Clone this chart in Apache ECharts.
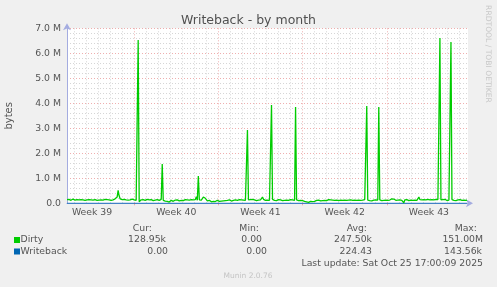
<!DOCTYPE html>
<html><head><meta charset="utf-8">
<script src="https://cdn.jsdelivr.net/npm/echarts@6/dist/echarts.min.js"></script>
<style>html,body{margin:0;padding:0;background:#f0f0f0}#c{width:497px;height:287px}</style>
</head><body><div id="c"></div>
<script>
// ---- data ----
const weekLabels = ['Week 39', 'Week 40', 'Week 41', 'Week 42', 'Week 43'];
const yTickValuesM = [0, 1, 2, 3, 4, 5, 6, 7];
// Dirty, one value per 2-hour step, in units of 0.01 MB
const dirty = [
15,14,16,13,12,15,17,14,13,16,15,12,14,17,15,13,14,16,12,15,
14,13,15,18,14,12,13,16,15,14,12,15,13,17,14,15,13,12,16,14,
15,13,14,16,12,15,14,13,18,17,25,52,30,18,14,15,13,16,12,14,
15,13,16,14,12,17,15,14,13,12,8,653,6,12,14,11,15,13,12,14,
16,12,14,13,15,12,11,14,13,12,15,13,12,14,16,157,12,10,9,12,
8,6,5,9,12,10,8,11,13,12,14,11,10,13,12,14,11,13,15,12,
14,12,13,11,15,12,14,13,15,26,12,109,14,18,13,16,25,33,20,12,
10,8,12,9,6,10,8,11,7,9,12,10,8,11,9,12,10,13,11,9,
12,10,14,11,9,13,12,10,14,11,12,13,15,11,14,12,13,15,12,14,
293,14,12,15,13,16,12,14,13,11,15,13,17,14,12,25,16,13,12,15,
13,14,12,15,393,16,13,12,14,11,13,15,12,14,13,11,14,12,15,13,
14,12,13,15,11,14,13,12,385,14,12,11,10,12,9,11,10,8,7,6,
5,4,6,8,5,7,9,8,10,12,11,13,12,10,14,11,13,12,14,11,
13,15,12,14,11,13,16,12,14,13,15,11,14,13,16,12,15,13,14,12,
15,13,11,14,16,12,15,13,17,12,14,13,15,12,14,13,16,15,14,389,
13,12,11,12,10,12,13,11,14,12,13,385,14,12,11,13,12,15,13,14,
12,14,13,15,18,26,17,14,12,15,13,11,14,16,12,15,2,14,12,15,
13,11,9,13,14,12,15,13,14,12,16,25,15,13,14,12,15,13,14,11,
16,12,14,13,15,11,14,13,16,12,15,13,661,14,12,15,13,16,12,11,
14,13,12,645,15,13,12,14,11,13,14,12,15,13,12,14,13,11,12,13
];
const writeback = [[0, 0], [399, 0]]; // bytes, effectively zero
const statHeaders = ['Cur:', 'Min:', 'Avg:', 'Max:'];
const dirtyStats = ['128.95k', '0.00', '247.50k', '151.00M'];
const writebackStats = ['0.00', '0.00', '224.43', '143.56k'];
const lastUpdate = 'Last update: Sat Oct 25 17:00:09 2025';

// ---- time structure (2-hour steps) ----
const totalSteps = 401;
const stepsPerDay = 12, stepsPerWeek = 84;
const firstWeekStart = 67;   // step of first week boundary (start of Week 40)
const firstDayLine = firstWeekStart % stepsPerDay;

const cats = [];
for (let i = 0; i < totalSteps; i++) cats.push('');
weekLabels.forEach((w, k) => {
  const idx = firstWeekStart - stepsPerWeek / 2 + k * stepsPerWeek;
  if (idx >= 0 && idx < totalSteps) cats[idx] = w;
});
const labelIdx = new Set();
cats.forEach((c, i) => { if (c) labelIdx.add(i); });

const dirtyData = dirty.map((v, i) => [i, v * 1e4]);

const FONT = 'DejaVu Sans';
const TXT = '#555';
const RED = 'rgba(225,110,110,0.55)';
const GRAY = '#d6d6d6';
const AXIS = '#a4ace0';

const dayColors = [];
for (let d = 0; d < 7; d++) dayColors.push(GRAY);
dayColors[(firstWeekStart - firstDayLine) / stepsPerDay % 7] = RED;

const fs = 9.3;
const colRight = [[152, 166, 168], [259, 262, 267], [367, 372, 372], [477, 483, 482]];
const graphics = [];
statHeaders.forEach((h, i) => {
  graphics.push({type: 'text', x: colRight[i][0], y: 228.5, style: {text: h, font: fs + 'px ' + FONT, fill: TXT, textAlign: 'right', textVerticalAlign: 'middle'}});
  graphics.push({type: 'text', x: colRight[i][1], y: 240, style: {text: dirtyStats[i], font: fs + 'px ' + FONT, fill: TXT, textAlign: 'right', textVerticalAlign: 'middle'}});
  graphics.push({type: 'text', x: colRight[i][2], y: 251.5, style: {text: writebackStats[i], font: fs + 'px ' + FONT, fill: TXT, textAlign: 'right', textVerticalAlign: 'middle'}});
});
graphics.push({type: 'rect', shape: {x: 14, y: 237, width: 6, height: 6}, style: {fill: '#00cc00'}});
graphics.push({type: 'rect', shape: {x: 14, y: 248.5, width: 6, height: 6}, style: {fill: '#0066b3'}});
graphics.push({type: 'text', x: 20.5, y: 240, style: {text: 'Dirty', font: fs + 'px ' + FONT, fill: TXT, textVerticalAlign: 'middle'}});
graphics.push({type: 'text', x: 20.5, y: 251.5, style: {text: 'Writeback', font: fs + 'px ' + FONT, fill: TXT, textVerticalAlign: 'middle'}});
graphics.push({type: 'text', x: 483, y: 264, style: {text: lastUpdate, font: fs + 'px ' + FONT, fill: TXT, textAlign: 'right', textVerticalAlign: 'middle'}});
graphics.push({type: 'text', x: 248, y: 276.5, style: {text: 'Munin 2.0.76', font: '7.5px ' + FONT, fill: '#c4c4c4', textAlign: 'center', textVerticalAlign: 'middle'}});
graphics.push({type: 'text', x: 488, y: 54, rotation: -Math.PI / 2, style: {text: 'RRDTOOL / TOBI OETIKER', font: '7.6px ' + FONT, fill: '#c8c8c8', textAlign: 'center', textVerticalAlign: 'middle'}});

const chart = echarts.init(document.getElementById('c'), null, {renderer: 'canvas'});
chart.setOption({
  backgroundColor: '#f0f0f0',
  animation: false,
  title: {text: 'Writeback - by month', left: 'center', top: 9,
    textStyle: {fontFamily: FONT, fontSize: 12.5, fontWeight: 'normal', color: '#505050'}},
  grid: {left: 67, right: 29, top: 28.3, bottom: 83.7, show: true, backgroundColor: '#ffffff', borderWidth: 0,
    containLabel: false, outerBoundsMode: 'none'},
  xAxis: {
    type: 'category', data: cats, boundaryGap: false,
    axisLine: {lineStyle: {color: AXIS, width: 1}, symbol: ['none', 'arrow'], symbolSize: [6, 7], symbolOffset: [0, 5]},
    axisTick: {show: true, length: 2, lineStyle: {color: RED},
      interval: (i) => i >= firstWeekStart && (i - firstWeekStart) % stepsPerWeek === 0},
    axisLabel: {interval: (i) => labelIdx.has(i), margin: 5, fontFamily: FONT, fontSize: fs, color: TXT},
    splitLine: {show: true, interval: (i) => i >= firstDayLine && (i - firstDayLine) % stepsPerDay === 0,
      lineStyle: {color: dayColors, width: 1, type: [1, 2]}}
  },
  yAxis: {
    type: 'value', min: yTickValuesM[0] * 1e6, max: yTickValuesM[yTickValuesM.length - 1] * 1e6, interval: 1e6,
    name: 'bytes', nameLocation: 'middle', nameRotate: 90, nameGap: 53,
    nameTextStyle: {fontFamily: FONT, fontSize: 10, color: TXT},
    axisLine: {show: true, lineStyle: {color: AXIS, width: 1}, symbol: ['none', 'arrow'], symbolSize: [6, 7], symbolOffset: [0, 5]},
    axisTick: {show: false},
    axisLabel: {margin: 6, fontFamily: FONT, fontSize: fs, color: TXT,
      formatter: (v) => v === 0 ? '0.0' : (v / 1e6).toFixed(1) + ' M'},
    splitLine: {show: true, lineStyle: {color: RED, width: 1, type: [1, 2]}},
    minorTick: {show: false, splitNumber: 5},
    minorSplitLine: {show: true, lineStyle: {color: GRAY, width: 1, type: [1, 2]}}
  },
  series: [
    {name: 'Writeback', type: 'line', data: writeback, symbol: 'none', lineStyle: {color: '#0066b3', width: 1}, z: 2},
    {name: 'Dirty', type: 'line', data: dirtyData, symbol: 'none', lineStyle: {color: '#00cc00', width: 1.3}, z: 3}
  ],
  graphic: graphics
});
</script></body></html>
